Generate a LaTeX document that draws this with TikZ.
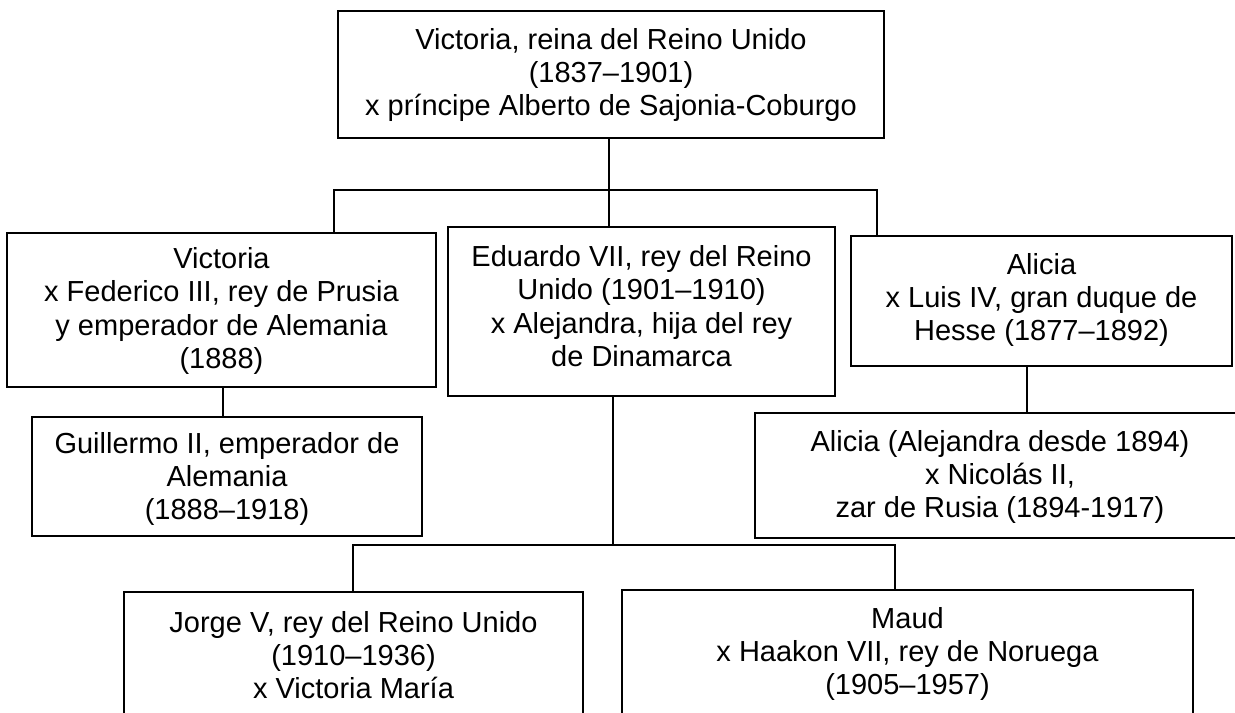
\documentclass[tikz,border=0pt]{standalone}
\usepackage{fontspec}
\setmainfont{Liberation Sans}
\usetikzlibrary{fit}
\begin{document}
\begin{tikzpicture}[x=0.75pt,y=-0.75pt,
  box/.style={draw=black,line width=1.5pt,inner sep=0pt,rectangle},
  txt/.style={align=center,inner sep=0pt,font=\fontsize{21.75pt}{25pt}\selectfont},
  link/.style={draw=black,line width=1.5pt}]
\useasboundingbox (0,0) rectangle (1235,713);
\clip (0,0) rectangle (1235,713);
% boxes
\node[box,fit={(338,11) (884,138)}] (top) {};
\node[box,fit={(7,233) (436,387)}] (vic) {};
\node[box,fit={(448,227) (835,396)}] (edu) {};
\node[box,fit={(851,236) (1232,366)}] (ali) {};
\node[box,fit={(32,417) (422,536)}] (gui) {};
\node[box,fit={(755,413) (1260,538)}] (ale) {};
\node[box,fit={(124,592) (583,760)}] (jor) {};
\node[box,fit={(622,590) (1193,760)}] (mau) {};
% texts
\node[txt] (toptxt) at (611,75) {Victoria, reina del Reino Unido\\(1837–1901)\\x príncipe Alberto de Sajonia-Coburgo};
\node[txt] (victxt) at (221.5,311) {Victoria\\x Federico III, rey de Prusia\\y emperador de Alemania\\(1888)};
\node[txt] (edutxt) at (641.5,306) {Eduardo VII, rey del Reino\\Unido (1901–1910)\\x Alejandra, hija del rey\\de Dinamarca};
\node[txt] (alitxt) at (1041.5,300) {Alicia\\x Luis IV, gran duque de\\Hesse (1877–1892)};
\node[txt] (guitxt) at (227,479) {Guillermo II, emperador de\\Alemania\\(1888–1918)};
\node[txt] (aletxt) at (1000,477) {Alicia (Alejandra desde 1894)\\x Nicolás II,\\zar de Rusia (1894-1917)};
\node[txt] (jortxt) at (353.5,655) {Jorge V, rey del Reino Unido\\(1910–1936)\\x Victoria María};
\node[txt] (mautxt) at (907.5,654) {Maud\\x Haakon VII, rey de Noruega\\(1905–1957)};
% junctions
\coordinate (j1) at (609,190);
\coordinate (j1l) at (334,190);
\coordinate (j1r) at (877,190);
\coordinate (j2) at (613,545);
\coordinate (j2l) at (353,545);
\coordinate (j2r) at (895,545);
% connectors
\draw[link] (top.south -| j1) -- (j1);
\draw[link] (vic.north -| j1l) -- (j1l) -- (j1r) -- (ali.north -| j1r);
\draw[link] (j1) -- (edu.north -| j1);
\draw[link] (vic.south -| 223,0) -- (gui.north -| 223,0);
\draw[link] (edu.south -| j2) -- (j2);
\draw[link] (jor.north -| j2l) -- (j2l) -- (j2r) -- (mau.north -| j2r);
\draw[link] (ali.south -| 1027,0) -- (ale.north -| 1027,0);
\end{tikzpicture}
\end{document}
